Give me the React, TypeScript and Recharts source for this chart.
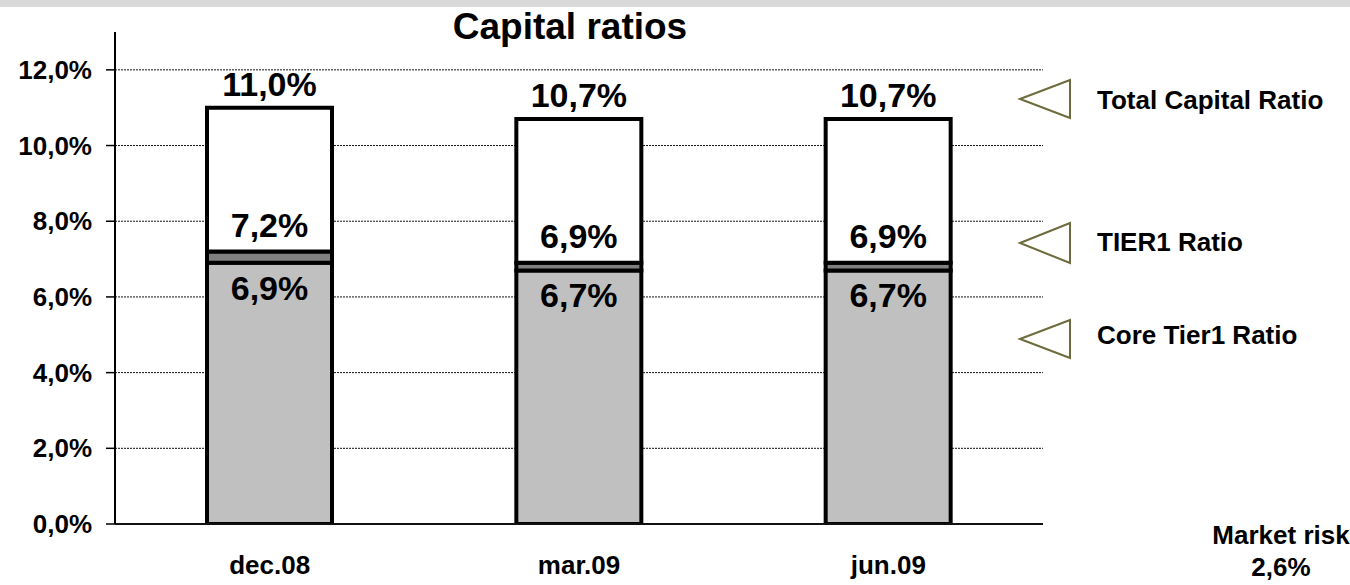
import React from "react";
import { BarChart, Bar, XAxis, YAxis, CartesianGrid, LabelList } from "recharts";

const categories = ["dec.08", "mar.09", "jun.09"];
const coreTier1 = [6.9, 6.7, 6.7];
const tier1 = [7.2, 6.9, 6.9];
const totalCapital = [11.0, 10.7, 10.7];
const yTicks = [0, 2, 4, 6, 8, 10, 12];
const gridValues = [2, 4, 6, 8, 10, 12];
const legendLabels = ["Total Capital Ratio", "TIER1 Ratio", "Core Tier1 Ratio"];
const marketRiskLabel = "Market risk";
const marketRisk = 2.6;
const title = "Capital ratios";

const data = categories.map((c, i) => ({
  name: c,
  core: coreTier1[i],
  tier1: tier1[i],
  total: totalCapital[i],
  seg1: coreTier1[i],
  seg2: +(tier1[i] - coreTier1[i]).toFixed(2),
  seg3: +(totalCapital[i] - tier1[i]).toFixed(2),
}));

const FONT = "'Liberation Sans', Arial, sans-serif";
const fmt = (v: number) => v.toFixed(1).replace(".", ",") + "%";

const makeLabel = (offset: number) => (props: any) => {
  const { x, y, width, value } = props;
  return (
    <text
      x={Number(x) + Number(width) / 2}
      y={Number(y) + offset}
      textAnchor="middle"
      fontFamily={FONT}
      fontWeight="bold"
      fontSize={34}
      fill="#000"
    >
      {fmt(Number(value))}
    </text>
  );
};

const YTick = (props: any) => {
  const { x, y, payload } = props;
  return (
    <text x={x} y={y + 9} textAnchor="end" fontFamily={FONT} fontWeight="bold" fontSize={26} fill="#000">
      {fmt(Number(payload.value))}
    </text>
  );
};

const XTick = (props: any) => {
  const { x, y, payload } = props;
  return (
    <text x={x} y={y + 50} textAnchor="middle" fontFamily={FONT} fontWeight="bold" fontSize={26} fill="#000">
      {payload.value}
    </text>
  );
};

const legendY = [[80, 118], [223, 263], [320, 358]];
const legendTextY = [109, 251, 344];

export default function App() {
  return (
    <div style={{ position: "absolute", left: 0, top: 0, width: 1350, height: 585, background: "#fff", overflow: "hidden" }}>
      <div style={{ position: "absolute", left: 0, top: 0, width: 1350, height: 7, background: "#d9d9d9" }} />
      <BarChart
        width={1350}
        height={585}
        data={data}
        margin={{ top: 32, right: 307, bottom: 11, left: 0 }}
        barCategoryGap={0}
      >
        <CartesianGrid vertical={false} horizontalValues={gridValues} stroke="#111" strokeDasharray="2 1" />
        <XAxis
          xAxisId="edges"
          type="number"
          domain={[0, 3]}
          ticks={[0, 1, 2, 3]}
          allowDataOverflow
          height={0}
          tick={false}
          tickSize={11}
          axisLine={false}
          tickLine={{ stroke: "#000", strokeWidth: 2 }}
        />
        <XAxis
          xAxisId="cat"
          dataKey="name"
          height={50}
          tickSize={0}
          tickMargin={0}
          tickLine={false}
          axisLine={{ stroke: "#111", strokeWidth: 2 }}
          tick={<XTick />}
        />
        <YAxis
          width={115}
          domain={[0, 13]}
          ticks={yTicks}
          allowDataOverflow
          tickSize={9}
          tickMargin={14}
          axisLine={{ stroke: "#000", strokeWidth: 2 }}
          tickLine={{ stroke: "#000", strokeWidth: 1.5 }}
          tick={<YTick />}
        />
        <Bar xAxisId="cat" dataKey="seg1" stackId="a" fill="#c0c0c0" stroke="#000" strokeWidth={4} barSize={125} isAnimationActive={false}>
          <LabelList dataKey="core" content={makeLabel(37)} />
        </Bar>
        <Bar xAxisId="cat" dataKey="seg2" stackId="a" fill="#808080" stroke="#000" strokeWidth={4} barSize={125} isAnimationActive={false}>
          <LabelList dataKey="tier1" content={makeLabel(-15)} />
        </Bar>
        <Bar xAxisId="cat" dataKey="seg3" stackId="a" fill="#ffffff" stroke="#000" strokeWidth={4} barSize={125} isAnimationActive={false}>
          <LabelList dataKey="total" content={makeLabel(-12)} />
        </Bar>
      </BarChart>
      <svg width={1350} height={585} style={{ position: "absolute", left: 0, top: 0, pointerEvents: "none" }}>
        <text x={570} y={39} textAnchor="middle" fontFamily={FONT} fontWeight="bold" fontSize={37} fill="#000">
          {title}
        </text>
        {legendLabels.map((l, i) => (
          <g key={l}>
            <polygon
              points={`1020,${(legendY[i][0] + legendY[i][1]) / 2} 1070,${legendY[i][0]} 1070,${legendY[i][1]}`}
              fill="none"
              stroke="#6b6b3b"
              strokeWidth={2}
            />
            <text x={1097} y={legendTextY[i]} fontFamily={FONT} fontWeight="bold" fontSize={26} fill="#000">
              {l}
            </text>
          </g>
        ))}
        <text x={1281} y={544} textAnchor="middle" fontFamily={FONT} fontWeight="bold" fontSize={26} fill="#000">
          {marketRiskLabel}
        </text>
        <text x={1281} y={576} textAnchor="middle" fontFamily={FONT} fontWeight="bold" fontSize={26} fill="#000">
          {fmt(marketRisk)}
        </text>
      </svg>
    </div>
  );
}
